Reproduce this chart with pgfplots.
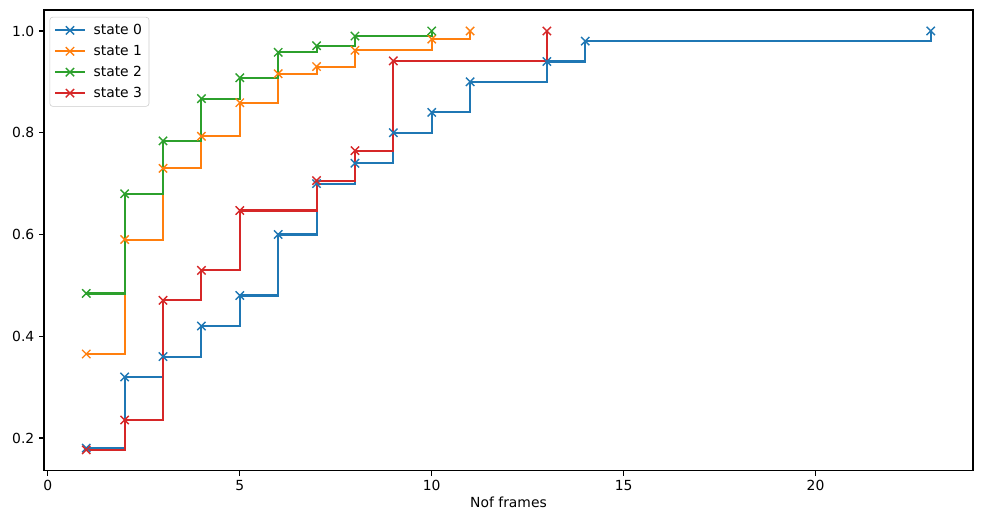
\documentclass[border=0pt]{standalone}
\usepackage{pgfplots}
\pgfplotsset{compat=1.18}
\usepackage{fontspec}
\setmainfont{DejaVu Sans}

\definecolor{c0}{HTML}{1F77B4}
\definecolor{c1}{HTML}{FF7F0E}
\definecolor{c2}{HTML}{2CA02C}
\definecolor{c3}{HTML}{D62728}

\begin{document}
\begin{tikzpicture}
\begin{axis}[
  scale only axis,
  width=668.9pt, height=331.9pt,
  xmin=-0.1, xmax=24.1,
  ymin=0.1352, ymax=1.0412,
  xtick={0,5,10,15,20},
  ytick={0.2,0.4,0.6,0.8,1.0},
  yticklabel style={/pgf/number format/.cd,fixed,fixed zerofill,precision=1},
  /pgf/number format/assume math mode=true,
  tick align=outside,
  major tick length=3.5pt,
  tick style={black, line width=0.8pt},
  axis line style={line width=0.8pt},
  xtick pos=bottom, ytick pos=left,
  ticklabel style={font=\fontsize{10}{12}\selectfont},
  xlabel={Nof frames},
  xlabel style={font=\fontsize{10}{12}\selectfont, yshift=3pt},
  every axis plot/.append style={line width=1.5pt, const plot mark left,
     mark=x, mark size=4.24pt, mark options={line width=1pt}},
  legend cell align=left,
  legend style={at={(0,1)}, anchor=north west, xshift=4pt, yshift=-5pt,
     draw=black!20, rounded corners=2pt, fill=white, fill opacity=0.8, text opacity=1,
     font=\fontsize{10}{12}\selectfont, row sep=2.2pt, inner sep=3pt},
  legend image code/.code={
     \draw[sharp plot] (0pt,0pt) -- (21.5pt,0pt);
     \draw[sharp plot, mark repeat=2, mark phase=2, line width=1pt, draw=none]
        plot coordinates {(0pt,0pt)(10.75pt,0pt)(21.5pt,0pt)};
     \path (25pt,0pt);},
]
\addplot[color=c0] coordinates {
 (1,0.18) (2,0.32) (3,0.36) (4,0.42) (5,0.48) (6,0.60) (7,0.70) (8,0.74)
 (9,0.80) (10,0.84) (11,0.90) (13,0.94) (14,0.98) (23,1.00)};
\addlegendentry{state 0}
\addplot[color=c1] coordinates {
 (1,0.365) (2,0.590) (3,0.730) (4,0.793) (5,0.859) (6,0.916) (7,0.930)
 (8,0.962) (10,0.984) (11,1.000)};
\addlegendentry{state 1}
\addplot[color=c2] coordinates {
 (1,0.484) (2,0.680) (3,0.784) (4,0.867) (5,0.908) (6,0.958) (7,0.971)
 (8,0.990) (10,1.000)};
\addlegendentry{state 2}
\addplot[color=c3] coordinates {
 (1,0.1765) (2,0.2353) (3,0.4706) (4,0.5294) (5,0.6471) (7,0.7059)
 (8,0.7647) (9,0.9412) (13,1.000)};
\addlegendentry{state 3}
\end{axis}
\useasboundingbox (current axis.south west) ++(-31.7pt,-38.9pt) rectangle ([xshift=5.8pt,yshift=7.2pt]current axis.north east);
\end{tikzpicture}
\end{document}
